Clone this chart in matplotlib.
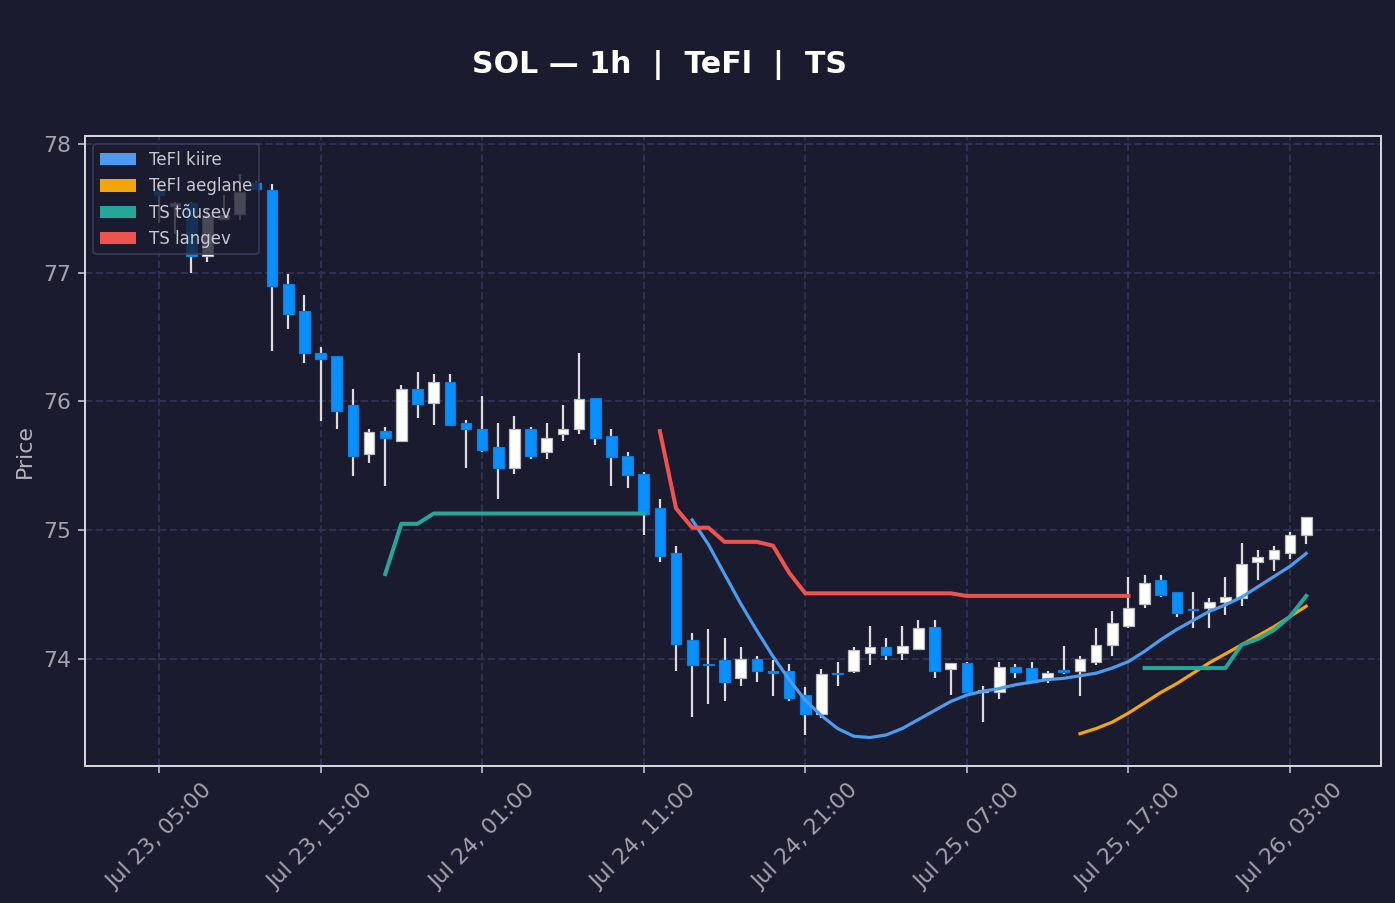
import numpy as np
import pandas as pd
import matplotlib
matplotlib.use("Agg")
import matplotlib.pyplot as plt
import matplotlib.dates as mdates
from matplotlib.patches import Patch

# ---------------- data ----------------
start_time = "2024-07-23 05:00"
n_candles = 72

opens = [77.64, 77.52, 77.54, 77.13, 77.42, 77.46, 77.70, 77.64, 76.91, 76.70,
         76.38, 76.35, 75.97, 75.59, 75.77, 75.69, 76.10, 75.99, 76.15, 75.83,
         75.79, 75.65, 75.48, 75.79, 75.61, 75.75, 75.79, 76.03, 75.73, 75.58,
         75.44, 75.17, 74.82, 74.15, 73.96, 73.99, 73.85, 74.00, 73.91, 73.91,
         73.72, 73.57, 73.89, 73.91, 74.05, 74.09, 74.05, 74.08, 74.25, 73.92,
         73.97, 73.745, 73.74, 73.94, 73.93, 73.85, 73.91, 73.91, 73.98, 74.11,
         74.26, 74.43, 74.61, 74.52, 74.39, 74.40, 74.44, 74.47, 74.75, 74.78,
         74.82, 74.96]
highs = [77.70, 77.55, 77.55, 77.49, 77.60, 77.77, 77.71, 77.69, 76.99, 76.83,
         76.42, 76.35, 76.10, 75.79, 75.80, 76.13, 76.23, 76.21, 76.21, 75.86,
         76.04, 75.83, 75.89, 75.80, 75.83, 75.97, 76.38, 76.03, 75.79, 75.61,
         75.45, 75.24, 74.88, 74.20, 74.23, 74.16, 74.09, 74.02, 73.99, 73.96,
         73.78, 73.92, 73.98, 74.09, 74.26, 74.16, 74.26, 74.30, 74.30, 73.97,
         73.98, 73.79, 73.98, 73.96, 73.98, 73.91, 74.10, 74.02, 74.24, 74.37,
         74.64, 74.65, 74.65, 74.52, 74.52, 74.47, 74.64, 74.90, 74.85, 74.88,
         74.99, 75.10]
lows = [77.39, 77.30, 77.00, 77.08, 77.41, 77.41, 77.64, 76.39, 76.56, 76.30,
        75.85, 75.79, 75.42, 75.52, 75.34, 75.69, 75.87, 75.82, 75.82, 75.48,
        75.61, 75.24, 75.44, 75.55, 75.55, 75.69, 75.75, 75.66, 75.34, 75.33,
        74.96, 74.75, 73.91, 73.55, 73.65, 73.67, 73.79, 73.82, 73.71, 73.67,
        73.41, 73.54, 73.79, 73.89, 73.95, 73.99, 73.99, 74.08, 73.85, 73.72,
        73.74, 73.51, 73.69, 73.85, 73.81, 73.81, 73.88, 73.71, 73.95, 74.02,
        74.24, 74.40, 74.48, 74.33, 74.24, 74.24, 74.34, 74.41, 74.61, 74.68,
        74.78, 74.89]
closes = [77.60, 77.54, 77.13, 77.45, 77.45, 77.63, 77.65, 76.90, 76.68, 76.38,
          76.33, 75.93, 75.58, 75.76, 75.72, 76.10, 75.98, 76.15, 75.82, 75.79,
          75.62, 75.48, 75.79, 75.58, 75.72, 75.79, 76.02, 75.72, 75.57, 75.43,
          75.13, 74.80, 74.12, 73.95, 73.95, 73.82, 74.00, 73.91, 73.89, 73.70,
          73.57, 73.88, 73.88, 74.07, 74.09, 74.03, 74.10, 74.24, 73.91, 73.97,
          73.74, 73.755, 73.94, 73.90, 73.82, 73.89, 73.90, 74.00, 74.11, 74.28,
          74.40, 74.59, 74.50, 74.36, 74.38, 74.44, 74.48, 74.74, 74.79, 74.85,
          74.96, 75.10]

# TeFl kiire (fast) starts at candle 33
tefl_kiire_start = 33
tefl_kiire = [75.08, 74.89, 74.66, 74.43, 74.22, 74.02, 73.84, 73.68, 73.56, 73.46,
              73.40, 73.39, 73.41, 73.46, 73.53, 73.60, 73.67, 73.72, 73.75, 73.77,
              73.80, 73.82, 73.84, 73.85, 73.87, 73.89, 73.93, 73.98, 74.06, 74.15,
              74.23, 74.30, 74.37, 74.42, 74.48, 74.56, 74.64, 74.72, 74.82]
# TeFl aeglane (slow) starts at candle 57
tefl_aeglane_start = 57
tefl_aeglane = [73.42, 73.46, 73.51, 73.58, 73.66, 73.74, 73.81, 73.89, 73.97, 74.04,
                74.11, 74.18, 74.25, 74.33, 74.41]
# TS tõusev (rising), two segments
ts_up1_start = 14
ts_up1 = [74.66, 75.05, 75.05, 75.13, 75.13, 75.13, 75.13, 75.13, 75.13, 75.13,
          75.13, 75.13, 75.13, 75.13, 75.13, 75.13, 75.13]
ts_up2_start = 61
ts_up2 = [73.93, 73.93, 73.93, 73.93, 73.93, 73.93, 74.11, 74.155, 74.225, 74.33, 74.49]
# TS langev (falling)
ts_down_start = 31
ts_down = [75.77, 75.17, 75.02, 75.02, 74.91, 74.91, 74.91, 74.88, 74.67, 74.51,
           74.51, 74.51, 74.51, 74.51, 74.51, 74.51, 74.51, 74.51, 74.51, 74.49,
           74.49, 74.49, 74.49, 74.49, 74.49, 74.49, 74.49, 74.49, 74.49, 74.49]

title = "SOL — 1h  |  TeFl  |  TS"
legend_labels = ["TeFl kiire", "TeFl aeglane", "TS tõusev", "TS langev"]
ylabel = "Price"

# ---------------- style ----------------
BG = "#1a1b2e"
GRID = "#2e3050"
SPINE = "#d4d4dc"
TICK = "#a4a4ae"
UP = "#ffffff"
DOWN = "#0a8fff"
WICK = "#dcdce2"
C_KIIRE = "#4d9bef"
C_AEGLANE = "#f2a60c"
C_UP = "#26a69a"
C_DOWN = "#ef5350"

times = pd.date_range(start_time, periods=n_candles, freq="h")
x = mdates.date2num(times.to_pydatetime())
hour = 1.0 / 24.0

DPI = 144
fig = plt.figure(figsize=(1395 / DPI, 903 / DPI), dpi=DPI, facecolor=BG)
ax = fig.add_axes([85 / 1395, 1 - 766 / 903, (1381 - 85) / 1395, (766 - 136) / 903])
ax.set_facecolor(BG)

o = np.array(opens); h = np.array(highs); l = np.array(lows); c = np.array(closes)
up = c >= o
ax.vlines(x, l, h, color=WICK, linewidth=1.1, zorder=2)
bottom = np.minimum(o, c)
height = np.maximum(np.abs(c - o), 0.012)
ax.bar(x[up], height[up], bottom=bottom[up], width=0.66 * hour, color=UP,
       edgecolor="#b9b9c2", linewidth=0.6, zorder=3)
ax.bar(x[~up], height[~up], bottom=bottom[~up], width=0.66 * hour, color=DOWN,
       edgecolor="#0b7fe0", linewidth=0.6, zorder=3)


def seg(start, vals):
    return x[start:start + len(vals)], vals


ax.plot(*seg(tefl_kiire_start, tefl_kiire), color=C_KIIRE, lw=1.6, zorder=4)
ax.plot(*seg(tefl_aeglane_start, tefl_aeglane), color=C_AEGLANE, lw=1.6, zorder=4)
ax.plot(*seg(ts_up1_start, ts_up1), color=C_UP, lw=2.0, zorder=4)
ax.plot(*seg(ts_up2_start, ts_up2), color=C_UP, lw=2.0, zorder=4)
ax.plot(*seg(ts_down_start, ts_down), color=C_DOWN, lw=2.0, zorder=4)

ax.set_xlim(x[0] - 4.58 * hour, x[0] + 75.63 * hour)
ax.set_ylim(73.169, 78.062)
ax.set_yticks([74, 75, 76, 77, 78])
ax.set_xticks(x[::10])
ax.xaxis.set_major_formatter(mdates.DateFormatter("%b %d, %H:%M"))
for lab in ax.get_xticklabels():
    lab.set_rotation(45)
    lab.set_ha("center")

ax.grid(True, linestyle="--", color=GRID, linewidth=1.0, zorder=0)
ax.set_axisbelow(True)
for sp in ax.spines.values():
    sp.set_color(SPINE)
    sp.set_linewidth(1.0)
ax.tick_params(colors=TICK, labelsize=11, length=3.5, width=1)
ax.set_ylabel(ylabel, color="#b4b4bd", fontsize=11, labelpad=4)

handles = [Patch(facecolor=col, edgecolor="none") for col in (C_KIIRE, C_AEGLANE, C_UP, C_DOWN)]
leg = ax.legend(handles, legend_labels, loc="upper left", fontsize=8.3,
                facecolor=BG, edgecolor="#3b3d5c", framealpha=0.8,
                borderaxespad=0.5, handlelength=2.15, handleheight=0.75)
for t in leg.get_texts():
    t.set_color("#c8c8d0")

fig.text(660 / 1395, 1 - 64.5 / 903, title, ha="center", va="center",
         fontsize=15, fontweight="bold", color="white")

fig.savefig("out.png", dpi=DPI, facecolor=BG)
